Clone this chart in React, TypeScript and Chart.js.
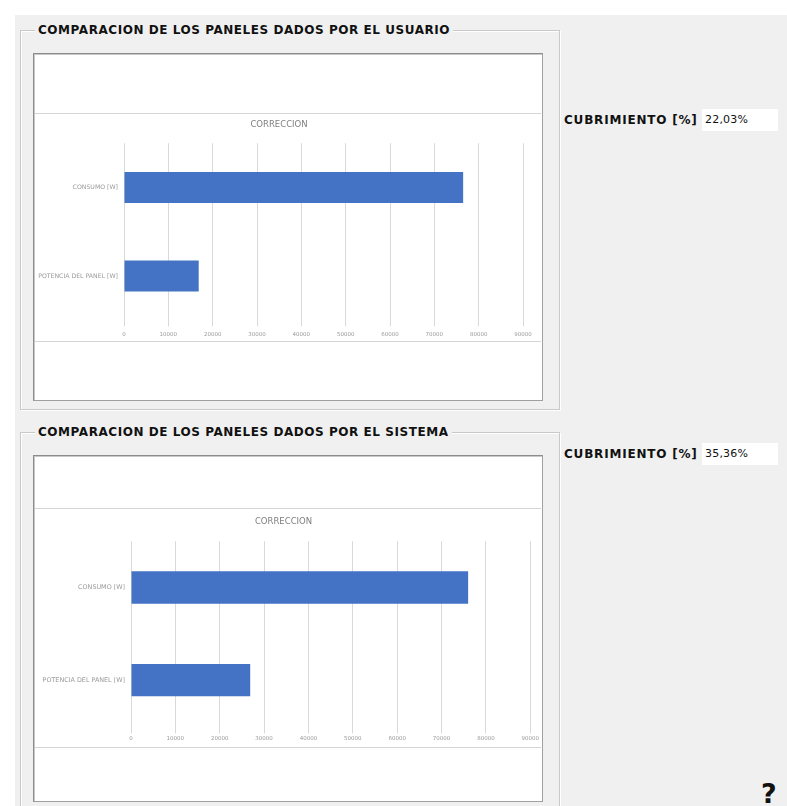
import React, { useEffect, useRef } from "react";
import { Chart, registerables } from "chart.js";

Chart.register(...registerables);

const categories = ["CONSUMO [W]", "POTENCIA DEL PANEL [W]"];
const userValues = [76500, 16850];
const systemValues = [76000, 26870];
const tickValues = [0, 10000, 20000, 30000, 40000, 50000, 60000, 70000, 80000, 90000];
const chartTitle = "CORRECCION";
const groupTitles = ["COMPARACION DE LOS PANELES DADOS POR EL USUARIO", "COMPARACION DE LOS PANELES DADOS POR EL SISTEMA"];
const coverageLabel = "CUBRIMIENTO [%]";
const coverageValues = ["22,03%", "35,36%"];

type BarProps = {
  values: number[];
  plotLeft: number;
  plotRight: number;
  titleTop: number;
  titleBottom: number;
  bottomPad: number;
  tickPad: number;
  tickLen: number;
  catFont: number;
  height: number;
};

function BarChart({ values, plotLeft, plotRight, titleTop, titleBottom, bottomPad, tickPad, tickLen, catFont, height }: BarProps) {
  const ref = useRef<HTMLCanvasElement | null>(null);
  useEffect(() => {
    if (!ref.current) return;
    const chart = new Chart(ref.current, {
      type: "bar",
      data: {
        labels: categories,
        datasets: [
          {
            data: values,
            backgroundColor: "#4472C4",
            borderWidth: 0,
            barPercentage: 0.7,
            categoryPercentage: 0.5,
          },
        ],
      },
      options: {
        indexAxis: "y",
        animation: false,
        responsive: false,
        maintainAspectRatio: false,
        layout: { padding: { left: 0, right: plotRight, top: 0, bottom: bottomPad } },
        plugins: {
          legend: { display: false },
          tooltip: { enabled: false },
          title: {
            display: true,
            text: chartTitle,
            color: "#7f7f7f",
            font: { family: "DejaVu Sans", size: 8.5, weight: "normal" },
            padding: { top: titleTop, bottom: titleBottom },
          },
        },
        scales: {
          x: {
            min: 0,
            max: 90000,
            afterBuildTicks: (s: any) => {
              s.ticks = tickValues.map((v) => ({ value: v }));
            },
            grid: { color: "#d9d9d9", lineWidth: 1, drawTicks: true, tickLength: tickLen, tickColor: "#d9d9d9" },
            border: { display: false },
            ticks: {
              color: "#9a9a9a",
              font: { family: "DejaVu Sans", size: 5.5 },
              padding: tickPad,
              maxRotation: 0,
              autoSkip: false,
              callback: (v: any) => String(v),
            },
          },
          y: {
            afterFit: (s: any) => {
              s.width = plotLeft;
            },
            grid: { display: false, drawTicks: false },
            border: { display: false },
            ticks: {
              color: "#9a9a9a",
              font: { family: "DejaVu Sans", size: catFont },
              padding: 6,
            },
          },
        },
      },
    } as any);
    return () => chart.destroy();
  }, []);
  return <canvas ref={ref} width={506} height={height} style={{ width: 506, height: height, display: "block" }} />;
}

const abs = (l: number, t: number, w: number, h: number): React.CSSProperties => ({
  position: "absolute",
  left: l,
  top: t,
  width: w,
  height: h,
  boxSizing: "border-box",
});

function Group({ top, height, title, frameTop, frameH, chartTop, chartH, chart }: any) {
  return (
    <>
      <div style={{ ...abs(20, top, 540, height), border: "1px solid #c9c9c9", boxShadow: "inset 1px 1px 0 #ffffff, 1px 1px 0 #ffffff" }} />
      <div
        style={{
          position: "absolute",
          left: 35,
          top: top - 8,
          padding: "0 3px",
          background: "#f0f0f0",
          fontFamily: "'DejaVu Sans', Verdana, sans-serif",
          fontWeight: "bold",
          fontSize: 12,
          lineHeight: "16px",
          color: "#111",
          whiteSpace: "nowrap",
          letterSpacing: 0.55,
        }}
      >
        {title}
      </div>
      <div style={{ ...abs(33, frameTop, 510, frameH), background: "#ffffff", border: "1px solid #8c8c8c", borderRightColor: "#a0a0a0", borderBottomColor: "#a0a0a0", boxShadow: "inset 1px 1px 0 #c8c8c8" }} />
      <div style={{ ...abs(35, chartTop, 506, chartH), background: "#fff", borderTop: "1px solid #d4d4d4", borderBottom: "1px solid #d4d4d4" }} />
      <div style={{ position: "absolute", left: 35, top: chartTop + 1 }}>{chart}</div>
    </>
  );
}

function Coverage({ top, value }: { top: number; value: string }) {
  return (
    <>
      <div
        style={{
          position: "absolute",
          left: 564,
          top: top,
          fontFamily: "'DejaVu Sans', Verdana, sans-serif",
          fontWeight: "bold",
          fontSize: 12,
          lineHeight: "22px",
          color: "#111",
          whiteSpace: "nowrap",
          letterSpacing: 0.8,
        }}
      >
        {coverageLabel}
      </div>
      <div
        style={{
          ...abs(702, top, 76, 22),
          background: "#fff",
          fontFamily: "'DejaVu Sans', Verdana, sans-serif",
          fontSize: 11,
          lineHeight: "22px",
          paddingLeft: 3,
          color: "#111",
          letterSpacing: 0.2,
        }}
      >
        {value}
      </div>
    </>
  );
}

export default function App() {
  return (
    <div style={{ position: "absolute", left: 0, top: 0, width: 787, height: 806, background: "#ffffff", overflow: "hidden" }}>
      <div style={{ ...abs(15, 15, 772, 791), background: "#f0f0f0" }} />
      <Group
        top={30}
        height={380}
        title={groupTitles[0]}
        frameTop={53}
        frameH={348}
        chartTop={113}
        chartH={229}
        chart={
          <BarChart values={userValues} plotLeft={89} plotRight={18} titleTop={6} titleBottom={13} bottomPad={1} tickPad={5} tickLen={6} catFont={6.2} height={230} />
        }
      />
      <Group
        top={432}
        height={380}
        title={groupTitles[1]}
        frameTop={455}
        frameH={347}
        chartTop={508}
        chartH={240}
        chart={
          <BarChart values={systemValues} plotLeft={96} plotRight={9} titleTop={8} titleBottom={14} bottomPad={4} tickPad={2} tickLen={7} catFont={6.4} height={239} />
        }
      />
      <Coverage top={109} value={coverageValues[0]} />
      <Coverage top={443} value={coverageValues[1]} />
      <div
        style={{
          position: "absolute",
          left: 761,
          top: 778,
          fontFamily: "'DejaVu Sans', Arial, sans-serif",
          fontWeight: "bold",
          fontSize: 27,
          lineHeight: "32px",
          color: "#111",
        }}
      >
        ?
      </div>
    </div>
  );
}
